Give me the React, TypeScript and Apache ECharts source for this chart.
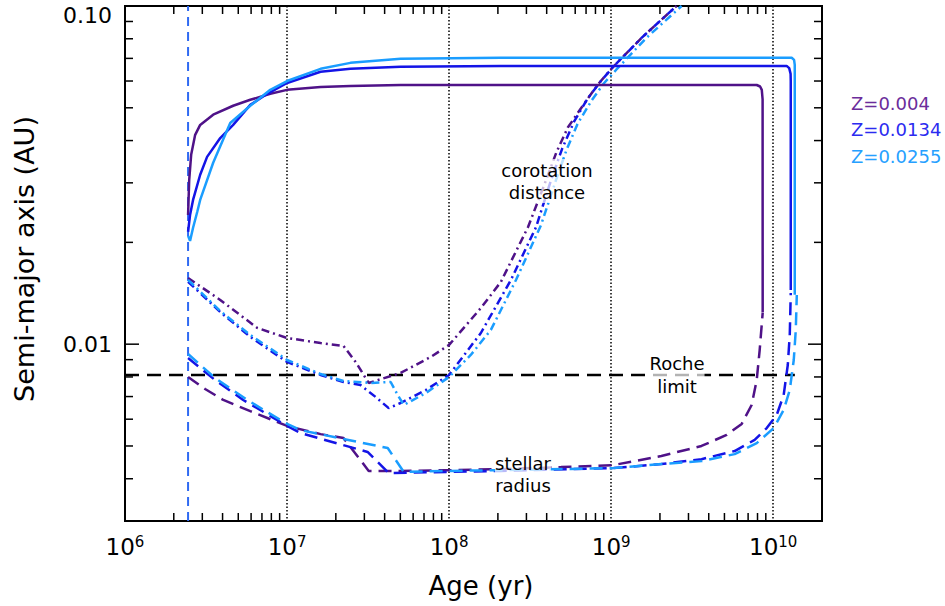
import React, { useEffect, useRef } from "react";
import * as echarts from "echarts";

const FONT = "DejaVu Sans, Verdana, sans-serif";

// axis ranges
const X_MIN = 1e6;
const X_MAX = 2e10;
const Y_MIN = 0.003;
const Y_MAX = 0.1;

// ticks
const MINOR_MANTISSAS = [2, 3, 4, 5, 6, 7, 8, 9];
const X_DECADES = [1e6, 1e7, 1e8, 1e9];
const Y_DECADES = [0.001, 0.01];
const Y_MAJOR_TICKS = [0.01];

// reference lines
const STAR_BIRTH_AGE = 2.45e6;
const ROCHE_LIMIT = 0.0081;
const ROCHE_AGES = [1e6, 1.36e10];

// planet orbit (semi-major axis), solid
const orbitZ004 = [
  [2.45e6, 0.0241], [2.49e6, 0.0306], [2.56e6, 0.0363], [2.71e6, 0.0416], [2.91e6, 0.0445],
  [3.5e6, 0.0477], [4.65e6, 0.0507], [5.93e6, 0.0528], [7.88e6, 0.055], [1.0e7, 0.0565],
  [1.61e7, 0.0576], [2.46e7, 0.058], [5.02e7, 0.0584], [7.91e9, 0.0584], [8.3e9, 0.0578],
  [8.5e9, 0.0565], [8.6e9, 0.053], [8.61e9, 0.0124],
];
const orbitZ0134 = [
  [2.45e6, 0.0215], [2.52e6, 0.0241], [2.63e6, 0.0267], [2.91e6, 0.0317], [3.21e6, 0.0358],
  [3.87e6, 0.0407], [4.65e6, 0.0445], [5.93e6, 0.051], [7.55e6, 0.055], [1.0e7, 0.0592],
  [1.61e7, 0.0639], [2.46e7, 0.0652], [5.02e7, 0.0661], [2.09e8, 0.0665], [1.21e10, 0.0665],
  [1.255e10, 0.0655], [1.28e10, 0.063], [1.283e10, 0.06], [1.283e10, 0.01447],
];
const orbitZ0255 = [
  [2.45e6, 0.0209], [2.52e6, 0.0202], [2.63e6, 0.0221], [2.79e6, 0.0246], [2.91e6, 0.0267],
  [3.5e6, 0.0344], [4.46e6, 0.0451], [5.93e6, 0.0507], [7.88e6, 0.0565], [1.0e7, 0.06],
  [1.61e7, 0.0652], [2.46e7, 0.0679], [5.02e7, 0.0698], [2.09e8, 0.0703], [1.3e10, 0.0703],
  [1.345e10, 0.0693], [1.358e10, 0.067], [1.358e10, 0.014],
];

// stellar radius, dashed
const radiusZ004 = [
  [2.45e6, 0.008], [3.12e6, 0.00737], [4.04e6, 0.00684], [5.93e6, 0.00634], [1.0e7, 0.00573],
  [1.61e7, 0.00542], [2.23e7, 0.00528], [3.19e7, 0.00422], [5.02e7, 0.00422], [1e8, 0.00424],
  [2.09e8, 0.00427], [4.91e8, 0.00433], [1.03e9, 0.00439], [2.04e9, 0.00467], [3.61e9, 0.005],
  [5.16e9, 0.00539], [6.39e9, 0.00581], [7.36e9, 0.00661], [7.91e9, 0.00783], [8.25e9, 0.00961],
  [8.61e9, 0.01237],
];
const radiusZ0134 = [
  [2.45e6, 0.0091], [3.6e6, 0.00783], [5.36e6, 0.00684], [1.0e7, 0.00573], [1.21e7, 0.00546],
  [3.14e7, 0.0048], [4.24e7, 0.00416], [1e8, 0.00419], [2.09e8, 0.00422], [1.03e9, 0.0043],
  [2.04e9, 0.00442], [3.61e9, 0.00457], [5.78e9, 0.00483], [7.68e9, 0.00521], [9.12e9, 0.00565],
  [1.05e10, 0.00617], [1.16e10, 0.00707], [1.23e10, 0.00868], [1.265e10, 0.01065], [1.283e10, 0.01417],
];
const radiusZ0255 = [
  [2.45e6, 0.00935], [3.6e6, 0.00794], [5.68e6, 0.00684], [1.0e7, 0.00581], [1.21e7, 0.00557],
  [4.18e7, 0.00493], [5.25e7, 0.00419], [1e8, 0.00422], [2.09e8, 0.00424], [1.03e9, 0.0043],
  [2.04e9, 0.00442], [3.61e9, 0.00451], [5.78e9, 0.00473], [7.91e9, 0.0051], [1.007e10, 0.00565],
  [1.16e10, 0.00639], [1.265e10, 0.00732], [1.339e10, 0.00898], [1.378e10, 0.01102], [1.398e10, 0.01398],
];

// corotation distance, dash-dot
const corotZ004 = [
  [2.45e6, 0.0157], [3.87e6, 0.01351], [6.55e6, 0.01117], [1.0e7, 0.01043], [1.61e7, 0.01008],
  [2.23e7, 0.00988], [2.65e7, 0.00886], [3.19e7, 0.00768], [5.02e7, 0.00822], [7.71e7, 0.00917],
  [1e8, 0.00995], [1.57e8, 0.01279], [2.09e8, 0.0153], [3.07e8, 0.0222], [3.97e8, 0.0306],
  [4.6e8, 0.037], [5.4e8, 0.0437], [6.6e8, 0.0503], [8.3e8, 0.0587], [1.03e9, 0.0661],
  [1.54e9, 0.0805], [2.53e9, 0.1],
];
const corotZ0134 = [
  [2.45e6, 0.0153], [3.87e6, 0.01245], [5.93e6, 0.01051], [1.0e7, 0.00886], [1.61e7, 0.00811],
  [2.23e7, 0.00773], [2.84e7, 0.00757], [3.52e7, 0.00698], [4.24e7, 0.00647], [5.02e7, 0.0067],
  [7.18e7, 0.00732], [1e8, 0.00811], [1.57e8, 0.01079], [2.41e8, 0.0155], [3.44e8, 0.0222],
  [4.26e8, 0.0306], [5.0e8, 0.038], [5.9e8, 0.0455], [7.2e8, 0.0535], [8.6e8, 0.0598],
  [1.03e9, 0.0661], [1.54e9, 0.0805], [2.53e9, 0.1],
];
const corotZ0255 = [
  [2.45e6, 0.0155], [3.87e6, 0.01253], [5.93e6, 0.01065], [1.0e7, 0.00898], [1.61e7, 0.00816],
  [2.23e7, 0.00778], [3.28e7, 0.00768], [4.36e7, 0.00773], [4.82e7, 0.00707], [5.25e7, 0.00661],
  [7.18e7, 0.00717], [1e8, 0.008], [1.36e8, 0.00929], [1.81e8, 0.01102], [2.59e8, 0.0155],
  [3.69e8, 0.0225], [4.57e8, 0.0306], [5.3e8, 0.0375], [6.2e8, 0.0448], [7.6e8, 0.0527],
  [9.0e8, 0.059], [1.075e9, 0.0648], [1.65e9, 0.0805], [2.72e9, 0.1],
];

const METALLICITIES = ["Z=0.004", "Z=0.0134", "Z=0.0255"];
const LINE_COLORS = ["#4f1288", "#1414e6", "#1a9dff"];
const TEXT_COLORS = ["#6b2c9b", "#2b2bf0", "#26a0ff"];

export default function App() {
  const ref = useRef<HTMLDivElement>(null);

  useEffect(() => {
    document.body.style.margin = "0";
    if (!ref.current) return;
    const chart = echarts.init(ref.current, undefined, { renderer: "svg" });

    const xMinor: number[][] = [];
    X_DECADES.forEach((d) => MINOR_MANTISSAS.forEach((m) => xMinor.push([m * d, Y_MIN, 8])));
    const yTicks: number[][] = [];
    Y_DECADES.forEach((d) =>
      MINOR_MANTISSAS.forEach((m) => {
        const v = m * d;
        if (v > Y_MIN * 1.0001 && v < Y_MAX) yTicks.push([X_MIN, v, 8]);
      })
    );
    Y_MAJOR_TICKS.forEach((v) => yTicks.push([X_MIN, v, 14]));

    const tickStyle = { stroke: "#000", lineWidth: 1.5 };

    const isPow = (v: number) => {
      const e = Math.log10(v);
      return Math.abs(e - Math.round(e)) < 1e-6 ? Math.round(e) : null;
    };

    const lineSeries = (data: number[][], color: string, type: any, z = 3) => ({
      type: "line",
      data,
      showSymbol: false,
      symbol: "none",
      z,
      clip: true,
      lineStyle: { color, width: 2.5, type },
    });

    const dashed = [13, 7];
    const dashDot = [8, 4, 2, 4];

    const option: any = {
      animation: false,
      grid: {
        left: 125,
        right: 123,
        top: 6,
        bottom: 85,
        show: true,
        borderColor: "#000",
        borderWidth: 2,
      },
      xAxis: {
        type: "log",
        logBase: 10,
        min: X_MIN,
        max: X_MAX,
        axisLine: { show: true, lineStyle: { color: "#000", width: 2 } },
        axisTick: { show: false },
        splitLine: { show: true, lineStyle: { color: "#000", width: 1.5, type: [1.5, 2] } },
        axisLabel: {
          margin: 13,
          color: "#000",
          fontFamily: FONT,
          fontSize: 22,
          formatter: (v: number) => {
            const e = isPow(v);
            return e === null ? "" : `{b|10}{s|${e}}`;
          },
          rich: {
            b: { fontSize: 23, fontFamily: FONT, color: "#000", verticalAlign: "bottom" },
            s: { fontSize: 15, fontFamily: FONT, color: "#000", verticalAlign: "bottom", padding: [0, 0, 9, 0] },
          },
        },
      },
      yAxis: {
        type: "log",
        logBase: 10,
        min: Y_MIN,
        max: Y_MAX,
        axisLine: { show: true, lineStyle: { color: "#000", width: 2 } },
        axisTick: { show: false },
        splitLine: { show: false },
        axisLabel: {
          margin: 13,
          color: "#000",
          fontFamily: FONT,
          fontSize: 22,
          formatter: (v: number) => {
            const e = isPow(v);
            if (e === -1) return "{t|0.10}";
            if (e === -2) return "0.01";
            return "";
          },
          rich: {
            t: { fontSize: 22, fontFamily: FONT, color: "#000", padding: [18, 0, 0, 0] },
          },
        },
      },
      graphic: [
        {
          type: "text",
          z: 100,
          x: 481,
          y: 586,
          style: { text: "Age (yr)", fontSize: 26, fontFamily: FONT, fill: "#000", align: "center", verticalAlign: "middle" },
        },
        {
          type: "text",
          z: 100,
          x: 24,
          y: 259,
          rotation: Math.PI / 2,
          style: { text: "Semi-major axis (AU)", fontSize: 27, fontFamily: FONT, fill: "#000", align: "center", verticalAlign: "middle" },
        },
        {
          type: "text",
          z: 100,
          x: 547,
          y: 181,
          style: {
            text: "corotation\ndistance",
            fontSize: 18,
            lineHeight: 22,
            fontFamily: FONT,
            fill: "#000",
            align: "center",
            verticalAlign: "middle",
            backgroundColor: "rgba(255,255,255,0.7)",
          },
        },
        {
          type: "text",
          z: 100,
          x: 677,
          y: 375,
          style: {
            text: "Roche\nlimit",
            fontSize: 18,
            lineHeight: 23,
            fontFamily: FONT,
            fill: "#000",
            align: "center",
            verticalAlign: "middle",
            backgroundColor: "rgba(255,255,255,0.7)",
          },
        },
        {
          type: "text",
          z: 100,
          x: 523,
          y: 474,
          style: {
            text: "stellar\nradius",
            fontSize: 18,
            lineHeight: 22,
            fontFamily: FONT,
            fill: "#000",
            align: "center",
            verticalAlign: "middle",
            backgroundColor: "rgba(255,255,255,0.7)",
          },
        },
        ...METALLICITIES.map((t, i) => ({
          type: "text",
          z: 100,
          x: 851,
          y: 103 + i * 26.5,
          style: { text: t, fontSize: 18, fontFamily: FONT, fill: TEXT_COLORS[i], align: "left", verticalAlign: "middle" },
        })),
      ],
      series: [
        {
          type: "line",
          data: [
            [STAR_BIRTH_AGE, Y_MIN],
            [STAR_BIRTH_AGE, Y_MAX],
          ],
          showSymbol: false,
          symbol: "none",
          z: 2,
          lineStyle: { color: "#2f6af2", width: 2, type: [9, 6] },
        },
        {
          type: "line",
          data: ROCHE_AGES.map((a) => [a, ROCHE_LIMIT]),
          showSymbol: false,
          symbol: "none",
          z: 2,
          lineStyle: { color: "#000", width: 2.5, type: [14, 8] },
        },
        lineSeries(radiusZ004, LINE_COLORS[0], dashed),
        lineSeries(radiusZ0134, LINE_COLORS[1], dashed),
        lineSeries(radiusZ0255, LINE_COLORS[2], dashed),
        lineSeries(corotZ004, LINE_COLORS[0], dashDot),
        lineSeries(corotZ0134, LINE_COLORS[1], dashDot),
        lineSeries(corotZ0255, LINE_COLORS[2], dashDot),
        lineSeries(orbitZ004, LINE_COLORS[0], "solid", 4),
        lineSeries(orbitZ0134, LINE_COLORS[1], "solid", 4),
        lineSeries(orbitZ0255, LINE_COLORS[2], "solid", 4),
        {
          type: "custom",
          silent: true,
          clip: false,
          z: 10,
          data: xMinor,
          encode: { x: 0, y: 1 },
          renderItem: (_p: any, api: any) => {
            const v = api.value(0);
            const len = api.value(2);
            const b = api.coord([v, Y_MIN]);
            const t = api.coord([v, Y_MAX]);
            return {
              type: "group",
              children: [
                { type: "line", shape: { x1: b[0], y1: b[1], x2: b[0], y2: b[1] - len }, style: tickStyle },
                { type: "line", shape: { x1: t[0], y1: t[1], x2: t[0], y2: t[1] + len }, style: tickStyle },
              ],
            };
          },
        },
        {
          type: "custom",
          silent: true,
          clip: false,
          z: 10,
          data: yTicks,
          encode: { x: 0, y: 1 },
          renderItem: (_p: any, api: any) => {
            const v = api.value(1);
            const len = api.value(2);
            const l = api.coord([X_MIN, v]);
            const r = api.coord([X_MAX, v]);
            return {
              type: "group",
              children: [
                { type: "line", shape: { x1: l[0], y1: l[1], x2: l[0] + len, y2: l[1] }, style: tickStyle },
                { type: "line", shape: { x1: r[0], y1: r[1], x2: r[0] - len, y2: r[1] }, style: tickStyle },
              ],
            };
          },
        },
      ],
    };

    chart.setOption(option);
    return () => chart.dispose();
  }, []);

  return <div ref={ref} style={{ width: 945, height: 606 }} />;
}
